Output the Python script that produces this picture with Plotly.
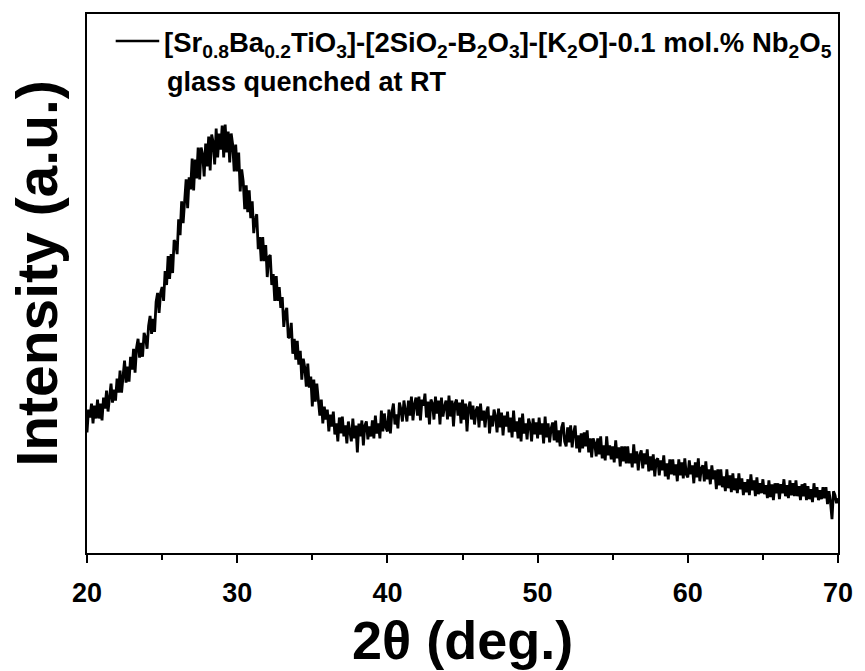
import numpy as np
import plotly.graph_objects as go

# 2-theta grid (deg), 0.1 deg step
two_theta = np.round(np.arange(20.0, 70.0001, 0.1), 1)

# Intensity (arbitrary units), one row per degree
intensity = [
    121, 144, 136, 150, 130, 148, 135, 154, 135, 150,   # 20
    133, 156, 145, 163, 142, 159, 170, 151, 164, 153,   # 21
    175, 161, 183, 161, 181, 193, 171, 187, 172, 197,   # 22
    184, 205, 181, 206, 215, 196, 211, 197, 221, 216,   # 23
    205, 228, 238, 220, 235, 222, 252, 261, 241, 261,   # 24
    267, 253, 283, 269, 298, 275, 300, 281, 314, 311,   # 25
    300, 335, 319, 353, 331, 357, 375, 346, 377, 365,   # 26
    396, 364, 395, 376, 407, 375, 407, 400, 378, 411,   # 27
    388, 418, 384, 420, 412, 390, 426, 397, 421, 405,   # 28
    429, 397, 430, 402, 423, 392, 421, 410, 383, 410,   # 29
    383, 402, 363, 385, 373, 345, 369, 342, 364, 336,   # 30
    353, 321, 335, 340, 305, 317, 293, 317, 293, 309,   # 31
    277, 297, 299, 269, 280, 253, 278, 253, 267, 246,   # 32
    257, 227, 241, 246, 216, 217, 231, 200, 215, 194,   # 33
    213, 189, 203, 174, 195, 186, 167, 190, 166, 177,   # 34
    147, 174, 152, 170, 154, 138, 154, 130, 147, 134,   # 35
    144, 122, 139, 127, 142, 119, 130, 112, 136, 120,   # 36
    137, 117, 128, 110, 132, 123, 112, 135, 115, 128,   # 37
    101, 130, 117, 133, 108, 128, 132, 114, 127, 117,   # 38
    133, 115, 138, 120, 130, 115, 143, 122, 140, 126,   # 39
    122, 144, 120, 141, 150, 129, 139, 125, 151, 144,   # 40
    132, 153, 144, 132, 153, 138, 157, 133, 149, 156,   # 41
    138, 157, 133, 154, 148, 160, 136, 152, 129, 154,   # 42
    150, 134, 157, 140, 153, 129, 156, 137, 147, 153,   # 43
    134, 158, 137, 153, 127, 150, 154, 138, 151, 130,   # 44
    154, 134, 150, 122, 146, 152, 134, 148, 129, 143,   # 45
    147, 126, 150, 133, 143, 126, 142, 147, 120, 138,   # 46
    127, 144, 137, 121, 145, 126, 141, 118, 138, 127,   # 47
    142, 121, 136, 116, 143, 122, 132, 115, 136, 112,   # 48
    140, 120, 130, 114, 135, 129, 112, 135, 119, 131,   # 49
    115, 136, 119, 130, 110, 137, 116, 130, 111, 125,   # 50
    131, 113, 133, 111, 123, 107, 126, 131, 112, 107,   # 51
    126, 111, 128, 106, 121, 128, 105, 118, 101, 120,   # 52
    105, 121, 107, 123, 101, 115, 96, 115, 110, 97,     # 53
    115, 99, 117, 95, 108, 93, 117, 98, 108, 94,        # 54
    107, 91, 113, 95, 106, 87, 107, 92, 107, 90,        # 55
    107, 90, 100, 86, 109, 90, 102, 83, 98, 103,        # 56
    85, 100, 89, 104, 82, 97, 83, 99, 77, 93,           # 57
    95, 78, 93, 83, 98, 77, 90, 74, 94, 79,             # 58
    94, 78, 89, 72, 94, 78, 91, 75, 95, 79,             # 59
    76, 93, 79, 88, 70, 91, 76, 95, 72, 85,             # 60
    88, 72, 92, 74, 84, 69, 88, 74, 83, 64,             # 61
    84, 68, 84, 66, 77, 62, 84, 65, 78, 61,             # 62
    80, 63, 75, 60, 80, 64, 75, 58, 71, 61,             # 63
    74, 58, 79, 63, 73, 57, 76, 59, 70, 60,             # 64
    74, 59, 68, 55, 73, 56, 69, 53, 70, 60,             # 65
    70, 54, 69, 60, 74, 57, 68, 55, 73, 58,             # 66
    70, 57, 73, 57, 67, 53, 69, 57, 70, 53,             # 67
    67, 54, 64, 51, 70, 56, 66, 53, 63, 54,             # 68
    66, 55, 66, 49, 62, 51, 34, 62, 58, 50,             # 69
    55,                                                 # 70
]

x_ticks = [20, 30, 40, 50, 60, 70]
legend_label = ("[Sr<sub>0.8</sub>Ba<sub>0.2</sub>TiO<sub>3</sub>]-[2SiO<sub>2</sub>-B<sub>2</sub>O<sub>3</sub>]"
                "-[K<sub>2</sub>O]-0.1 mol.% Nb<sub>2</sub>O<sub>5</sub>")
note_label = "glass quenched at RT"
x_title = "2θ (deg.)"
y_title = "Intensity (a.u.)"

FONT = "Liberation Sans, Arial, sans-serif"

fig = go.Figure()
fig.add_trace(go.Scatter(x=two_theta, y=intensity, mode="lines",
                         line=dict(color="black", width=2.8), showlegend=False))

fig.update_layout(
    width=865, height=671,
    margin=dict(l=87, r=19, t=12, b=118),
    paper_bgcolor="white", plot_bgcolor="white",
    font=dict(family=FONT, color="black"),
    xaxis=dict(range=[20, 70], tickvals=x_ticks, ticks="outside", ticklen=8, tickwidth=2,
               tickcolor="black", showline=True, linewidth=2, linecolor="black", mirror=True,
               showgrid=False, zeroline=False,
               tickfont=dict(family=FONT, size=27, weight="bold"), ticklabelstandoff=7,
               minor=dict(dtick=5, tick0=25, ticks="outside", ticklen=5, tickwidth=2, tickcolor="black",
                          showgrid=False)),
    yaxis=dict(range=[0, 541], showticklabels=False, ticks="", showline=True, linewidth=2,
               linecolor="black", mirror=True, showgrid=False, zeroline=False),
)

# legend sample line and texts
fig.add_shape(type="line", xref="paper", yref="paper",
              x0=(116 - 87) / 759, x1=(160 - 87) / 759, y0=(553 - 39) / 541, y1=(553 - 39) / 541,
              line=dict(color="black", width=2.5))
fig.add_annotation(xref="paper", yref="paper", x=(163 - 87) / 759, y=(553 - 43) / 541,
                   xanchor="left", yanchor="middle", showarrow=False, text=legend_label,
                   font=dict(family=FONT, size=27.5, weight="bold"))
fig.add_annotation(xref="paper", yref="paper", x=(166 - 87) / 759, y=(553 - 80) / 541,
                   xanchor="left", yanchor="middle", showarrow=False, text=note_label,
                   font=dict(family=FONT, size=27, weight="bold"))
# axis titles
fig.add_annotation(xref="paper", yref="paper", x=(466 - 87) / 759, y=(553 - 640) / 541,
                   xanchor="center", yanchor="middle", showarrow=False, text=x_title,
                   font=dict(family=FONT, size=54, weight="bold"))
fig.add_annotation(xref="paper", yref="paper", x=(36 - 87) / 759, y=(553 - 273) / 541,
                   xanchor="center", yanchor="middle", showarrow=False, text=y_title, textangle=-90,
                   font=dict(family=FONT, size=57, weight="bold"))

fig.write_html("out.html")
